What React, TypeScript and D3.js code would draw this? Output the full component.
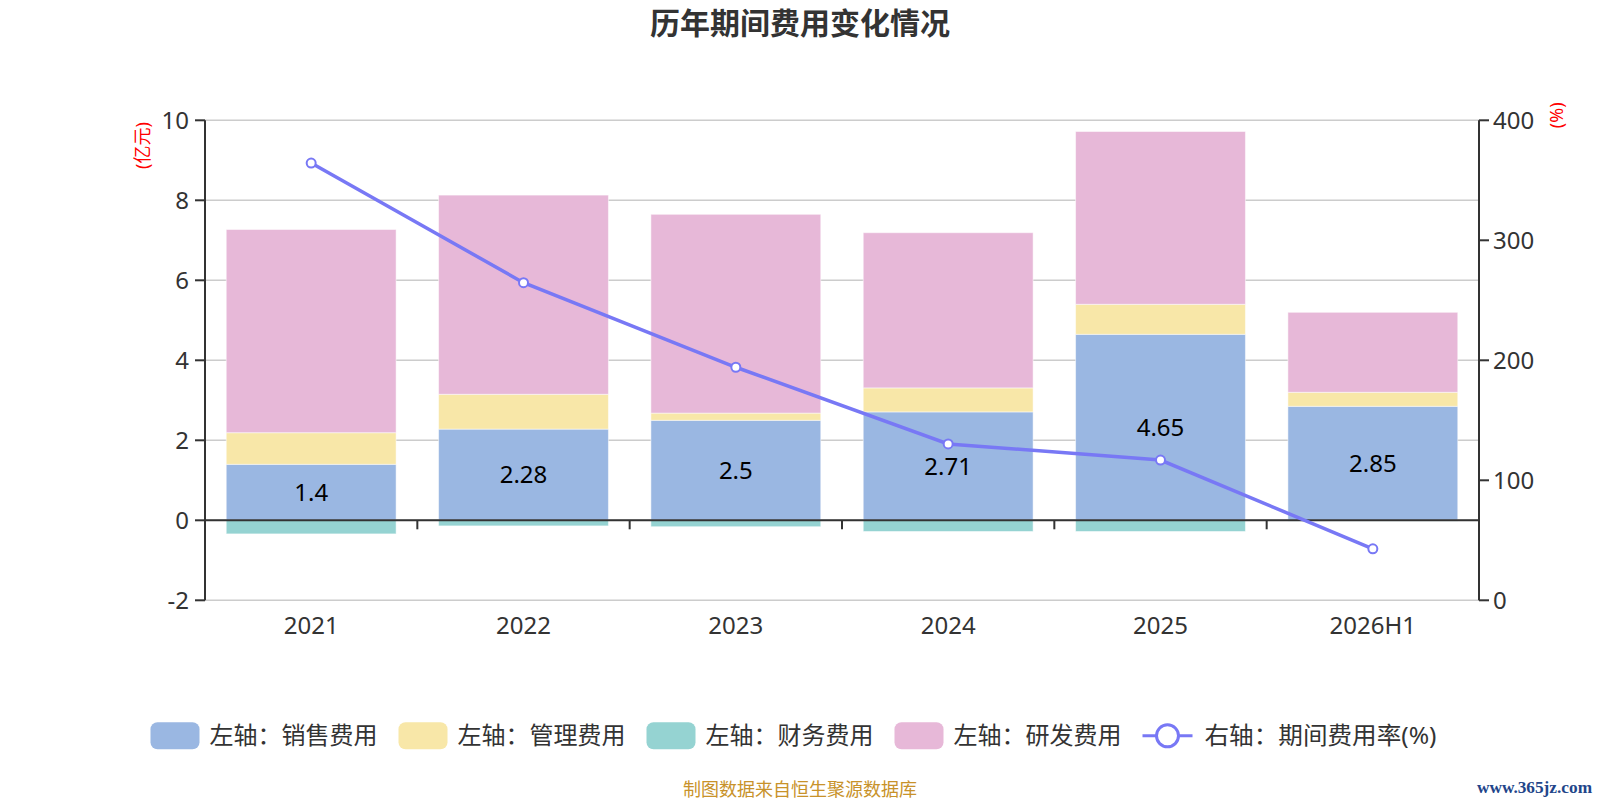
import React from "react";
import * as d3 from "d3";

// chart data
const categories = ["2021", "2022", "2023", "2024", "2025", "2026H1"];
const salesCost = [1.4, 2.28, 2.5, 2.71, 4.65, 2.85];
const adminCost = [0.79, 0.87, 0.18, 0.6, 0.75, 0.35];
const financeCost = [-0.34, -0.14, -0.16, -0.28, -0.28, -0.02];
const rndCost = [5.08, 4.98, 4.97, 3.88, 4.32, 2.0];
const expenseRate = [364.4, 264.7, 194.2, 130.3, 116.9, 42.9];

const leftTicks = [-2, 0, 2, 4, 6, 8, 10];
const rightTicks = [0, 100, 200, 300, 400];

const seriesNames = ["左轴：销售费用", "左轴：管理费用", "左轴：财务费用", "左轴：研发费用"];
const lineName = "右轴：期间费用率(%)";
const colors = ["#9ab7e2", "#f8e7a8", "#95d3d2", "#e7b8d8"];
const lineColor = "#7878f5";

const W = 1600;
const H = 800;
const FONT = '"Noto Sans", "Noto Sans CJK SC", sans-serif';

export default function App() {
  const left = 205;
  const right = 1479;
  const top = 120.3;
  const bottom = 600.3;

  const x = d3.scaleBand<string>().domain(categories).range([left, right]).paddingInner(0).paddingOuter(0);
  const yL = d3.scaleLinear().domain([-2, 10]).range([bottom, top]);
  const yR = d3.scaleLinear().domain([0, 400]).range([bottom, top]);
  const barW = x.bandwidth() * 0.8;

  // stack: positives upwards, negatives downwards
  const rows = categories.map((c, i) => ({
    cat: c,
    vals: [salesCost[i], adminCost[i], financeCost[i], rndCost[i]],
  }));
  const rects: { key: string; x: number; y0: number; y1: number; color: string }[] = [];
  rows.forEach((r) => {
    let pos = 0;
    let neg = 0;
    r.vals.forEach((v, k) => {
      let a: number, b: number;
      if (v >= 0) {
        a = pos;
        b = pos + v;
        pos = b;
      } else {
        a = neg;
        b = neg + v;
        neg = b;
      }
      rects.push({
        key: r.cat + k,
        x: (x(r.cat) as number) + (x.bandwidth() - barW) / 2,
        y0: yL(Math.max(a, b)),
        y1: yL(Math.min(a, b)),
        color: colors[k],
      });
    });
  });

  const line = d3
    .line<number>()
    .x((_, i) => (x(categories[i]) as number) + x.bandwidth() / 2)
    .y((d) => yR(d));

  // legend layout
  const fs = 24;
  const textW = (s: string) => {
    let w = 0;
    for (const ch of s) w += /[\u4e00-\u9fff\uff1a]/.test(ch) ? fs : ch === "%" ? fs * 0.84 : fs * 0.3;
    return w;
  };
  let lx = 150.5;
  const legendItems = seriesNames.map((n, i) => {
    const item = { n, x: lx, color: colors[i] };
    lx += 49 + 10 + textW(n) + 21;
    return item;
  });
  const lineLegendX = lx;
  const ly = 735.8;

  return (
    <svg
      width={W}
      height={H}
      style={{ position: "absolute", left: 0, top: 0, background: "#fff" }}
      fontFamily={FONT}
    >
      <text x={800} y={34} textAnchor="middle" fontSize={30} fontWeight="bold" fill="#333">
        历年期间费用变化情况
      </text>

      {/* grid */}
      {leftTicks.map((t) => (
        <line key={"g" + t} x1={left} x2={right} y1={yL(t)} y2={yL(t)} stroke="#cccccc" strokeWidth={1.5} />
      ))}

      {/* bars */}
      {rects.map((r) => (
        <rect
          key={r.key}
          x={r.x}
          y={r.y0}
          width={barW}
          height={Math.max(0, r.y1 - r.y0)}
          fill={r.color}
          stroke="#ffffff"
          strokeOpacity={0.5}
          strokeWidth={1}
        />
      ))}

      {/* bar labels for sales */}
      {categories.map((c, i) => (
        <text
          key={"lb" + c}
          x={(x(c) as number) + x.bandwidth() / 2}
          y={yL(salesCost[i] / 2)}
          dy="0.36em"
          textAnchor="middle"
          fontSize={24}
          fill="#000"
        >
          {salesCost[i]}
        </text>
      ))}

      {/* x axis on zero */}
      <line x1={left} x2={right} y1={yL(0)} y2={yL(0)} stroke="#333" strokeWidth={2} />
      {d3.range(categories.length + 1).map((i) => {
        const tx = left + i * x.bandwidth();
        return <line key={"xt" + i} x1={tx} x2={tx} y1={yL(0)} y2={yL(0) + 9} stroke="#333" strokeWidth={2} />;
      })}
      {categories.map((c) => (
        <text
          key={"xl" + c}
          x={(x(c) as number) + x.bandwidth() / 2}
          y={634}
          textAnchor="middle"
          fontSize={24}
          fill="#333"
        >
          {c}
        </text>
      ))}

      {/* left axis */}
      <line x1={left} x2={left} y1={top} y2={bottom} stroke="#333" strokeWidth={2} />
      {leftTicks.map((t) => (
        <g key={"lt" + t}>
          <line x1={left - 10} x2={left} y1={yL(t)} y2={yL(t)} stroke="#333" strokeWidth={2} />
          <text x={189} y={yL(t)} dy="0.36em" textAnchor="end" fontSize={24} fill="#333">
            {t}
          </text>
        </g>
      ))}
      <text
        transform="translate(149,145.5) rotate(-90)"
        textAnchor="middle"
        fontSize={18}
        fill="#ff0000"
      >
        (亿元)
      </text>

      {/* right axis */}
      <line x1={right} x2={right} y1={top} y2={bottom} stroke="#333" strokeWidth={2} />
      {rightTicks.map((t) => (
        <g key={"rt" + t}>
          <line x1={right} x2={right + 10} y1={yR(t)} y2={yR(t)} stroke="#333" strokeWidth={2} />
          <text x={1493} y={yR(t)} dy="0.36em" textAnchor="start" fontSize={24} fill="#333">
            {t}
          </text>
        </g>
      ))}
      <text
        transform="translate(1563,115.3) rotate(-90)"
        textAnchor="middle"
        fontSize={18}
        fill="#ff0000"
      >
        (%)
      </text>

      {/* rate line */}
      <path d={line(expenseRate) || ""} fill="none" stroke={lineColor} strokeWidth={3.5} />
      {expenseRate.map((v, i) => (
        <circle
          key={"pt" + i}
          cx={(x(categories[i]) as number) + x.bandwidth() / 2}
          cy={yR(v)}
          r={4.5}
          fill="#fff"
          stroke={lineColor}
          strokeWidth={2}
        />
      ))}

      {/* legend */}
      {legendItems.map((it) => (
        <g key={it.n}>
          <rect x={it.x} y={ly - 13.5} width={49} height={27} rx={7} fill={it.color} />
          <text x={it.x + 59} y={ly} dy="0.36em" fontSize={fs} fill="#333">
            {it.n}
          </text>
        </g>
      ))}
      <g>
        <line x1={lineLegendX} x2={lineLegendX + 50} y1={ly} y2={ly} stroke={lineColor} strokeWidth={3} />
        <circle cx={lineLegendX + 25} cy={ly} r={11} fill="#fff" stroke={lineColor} strokeWidth={3} />
        <text x={lineLegendX + 62} y={ly} dy="0.36em" fontSize={fs} fill="#333" textLength={232} lengthAdjust="spacingAndGlyphs">
          {lineName}
        </text>
      </g>

      {/* source + watermark */}
      <text x={800} y={796} textAnchor="middle" fontSize={18} fill="#c8922a">
        制图数据来自恒生聚源数据库
      </text>
      <text
        x={1477}
        y={793}
        fontSize={16}
        fontWeight="bold"
        fontFamily='"Liberation Serif", "DejaVu Serif", serif'
        fill="#22458a"
        textLength={115}
        lengthAdjust="spacingAndGlyphs"
      >
        www.365jz.com
      </text>
    </svg>
  );
}
